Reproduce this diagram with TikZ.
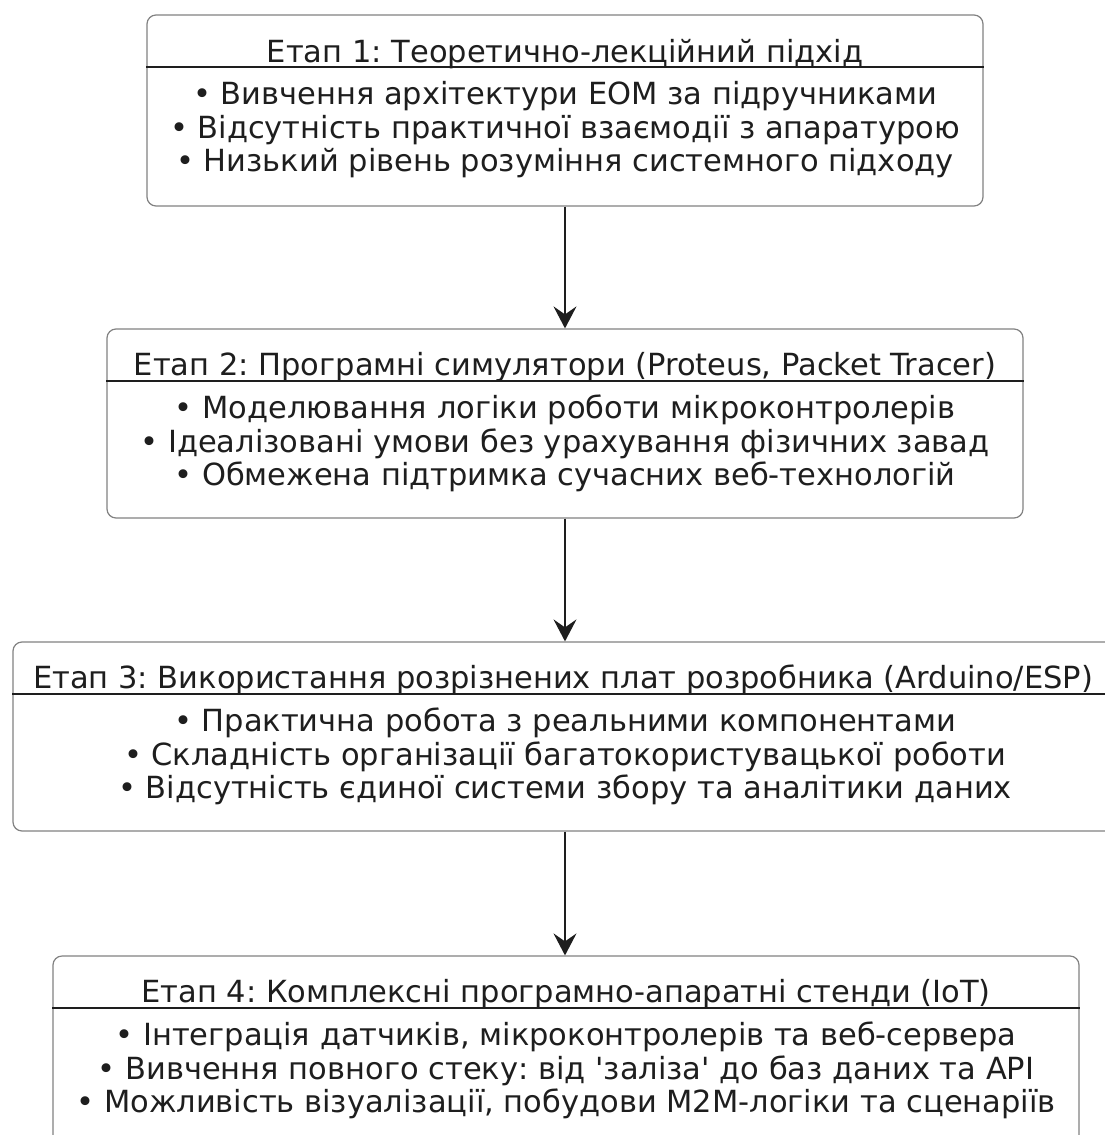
\documentclass[tikz,border=0pt]{standalone}
\usepackage{fontspec}
\setmainfont{DejaVu Sans}[Ligatures=TeXOff]
\usetikzlibrary{arrows.meta}
\definecolor{bordercol}{RGB}{130,130,130}
\definecolor{inkcol}{RGB}{30,30,30}
\tikzset{
  stagebox/.style={draw=bordercol, line width=1.2pt, rounded corners=9pt, inner sep=0pt, fill=white},
  sepline/.style={draw=inkcol, line width=1.3pt},
  txt/.style={anchor=base, inner sep=0pt, text=inkcol, font=\fontsize{30.5}{33}\selectfont\frenchspacing},
  flowarrow/.style={draw=inkcol, line width=1.5pt, -{Stealth[length=22pt,width=23pt,inset=8pt]}}
}
\begin{document}
\begin{tikzpicture}[x=1pt,y=-1pt]
\useasboundingbox[fill=white] (0,0) rectangle (1105,1135);
% Box 1
\node[stagebox, minimum width=836pt, minimum height=191pt] (b1) at (565,110.5) {};
\draw[sepline] (b1.west |- 0,67) -- (b1.east |- 0,67);
\node[txt] (t1) at (565,62) {Етап 1: Теоретично-лекційний підхід};
\node[txt] (t1a) at (565,104) {• Вивчення архітектури ЕОМ за підручниками};
\node[txt] (t1b) at (565,138) {• Відсутність практичної взаємодії з апаратурою};
\node[txt] (t1c) at (565,171) {• Низький рівень розуміння системного підходу};
% Box 2
\node[stagebox, minimum width=916pt, minimum height=189pt] (b2) at (565,423.5) {};
\draw[sepline] (b2.west |- 0,381) -- (b2.east |- 0,381);
\node[txt] (t2) at (565,375) {Етап 2: Програмні симулятори (Proteus, Packet Tracer)};
\node[txt] (t2a) at (565,418) {• Моделювання логіки роботи мікроконтролерів};
\node[txt] (t2b) at (565,452) {• Ідеалізовані умови без урахування фізичних завад};
\node[txt] (t2c) at (565,485) {• Обмежена підтримка сучасних веб-технологій};
% Box 3
\node[stagebox, minimum width=1104pt, minimum height=189pt] (b3) at (565,736.5) {};
\draw[sepline] (b3.west |- 0,694) -- (b3.east |- 0,694);
\node[txt] (t3) at (563,688) {Етап 3: Використання розрізнених плат розробника (Arduino/ESP)};
\node[txt] (t3a) at (565,731) {• Практична робота з реальними компонентами};
\node[txt] (t3b) at (565,765) {• Складність організації багатокористувацької роботи};
\node[txt] (t3c) at (565,798) {• Відсутність єдиної системи збору та аналітики даних};
% Box 4
\node[stagebox, minimum width=1026pt, minimum height=191pt] (b4) at (566,1051.5) {};
\draw[sepline] (b4.west |- 0,1008) -- (b4.east |- 0,1008);
\node[txt] (t4) at (566,1002) {Етап 4: Комплексні програмно-апаратні стенди (IoT)};
\node[txt] (t4a) at (566,1045) {• Інтеграція датчиків, мікроконтролерів та веб-сервера};
\node[txt] (t4b) at (566,1079) {• Вивчення повного стеку: від 'заліза' до баз даних та API};
\node[txt] (t4c) at (566,1112) {• Можливість візуалізації, побудови M2M-логіки та сценаріїв};
% Arrows
\draw[flowarrow] (b1.south -| 565,0) -- (b2.north -| 565,0);
\draw[flowarrow] (b2.south -| 565,0) -- (b3.north -| 565,0);
\draw[flowarrow] (b3.south -| 565,0) -- (b4.north -| 565,0);
\end{tikzpicture}
\end{document}
